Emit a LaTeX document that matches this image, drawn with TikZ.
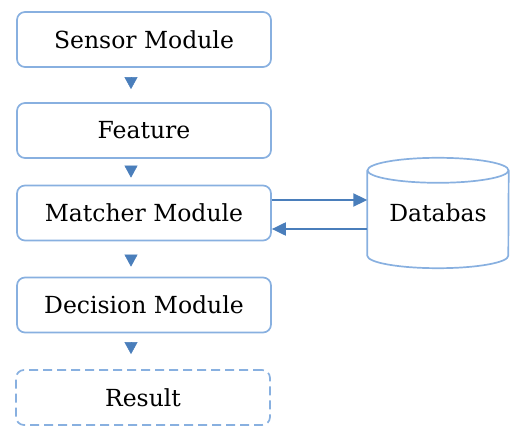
\documentclass[tikz,border=0pt]{standalone}
\usepackage{fontspec}
\setmainfont{DejaVu Serif}
\usetikzlibrary{arrows.meta,calc}
\definecolor{boxblue}{RGB}{136,176,224}
\definecolor{arrblue}{RGB}{74,126,187}
\begin{document}
\begin{tikzpicture}[x=1pt,y=1pt,
  modbox/.style={draw=boxblue, line width=1.7pt, rounded corners=8pt, minimum width=254pt, minimum height=55pt, inner sep=0pt, font=\rmfamily\fontsize{23.5}{27}\selectfont},
  resbox/.style={modbox, dashed, dash pattern=on 9pt off 5pt},
  downarr/.style={draw=arrblue, line width=0.5pt, -{Triangle[length=12pt,width=13pt]}, arrblue},
  sidearr/.style={draw=arrblue, line width=2pt, -{Triangle[length=14pt,width=13pt]}, arrblue}
]
\useasboundingbox (0,0) rectangle (511,-427);
\node[modbox] (s) at (144,-39.5) {Sensor Module};
\node[modbox] (f) at (144,-130.5) {Feature};
\node[modbox] (m) at (144,-213) {Matcher Module};
\node[modbox] (d) at (144,-305) {Decision Module};
\node[resbox] (r) at (143,-397.5) {Result};
% database
\node[minimum width=141pt, minimum height=110pt, inner sep=0pt] (db) at (438,-213) {};
\node[font=\rmfamily\fontsize{23.5}{27}\selectfont] (dbt) at (438,-213) {Databas};
\draw[boxblue, line width=1.7pt] ($(db.north west)+(0,-12.5)$) -- ($(db.south west)+(0,12.5)$)
  arc[start angle=180, end angle=360, x radius=70.5pt, y radius=12.5pt]
  -- ($(db.north east)+(0,-12.5)$);
\draw[boxblue, line width=1.7pt] ($(db.north)+(0,-12.5)$) ellipse[x radius=70.5pt, y radius=12.5pt];
% down arrows
\draw[downarr, shorten <=11pt, shorten >=13pt] ($(s.south)+(-13,0)$) -- ($(f.north)+(-13,0)$);
\draw[downarr, shorten <=8pt, shorten >=7pt] ($(f.south)+(-13,0)$) -- ($(m.north)+(-13,0)$);
\draw[downarr, shorten <=14pt, shorten >=10pt] ($(m.south)+(-13,0)$) -- ($(d.north)+(-13,0)$);
\draw[downarr, shorten <=10pt, shorten >=15pt] ($(d.south)+(-13,0)$) -- ($(r.north)+(-12,0)$);
% side arrows
\draw[sidearr] ([yshift=13pt]m.east) -- ([yshift=13pt]m.east -| db.west);
\draw[sidearr] ([yshift=-16pt]m.east -| db.west) -- ([yshift=-16pt]m.east);
\end{tikzpicture}
\end{document}
